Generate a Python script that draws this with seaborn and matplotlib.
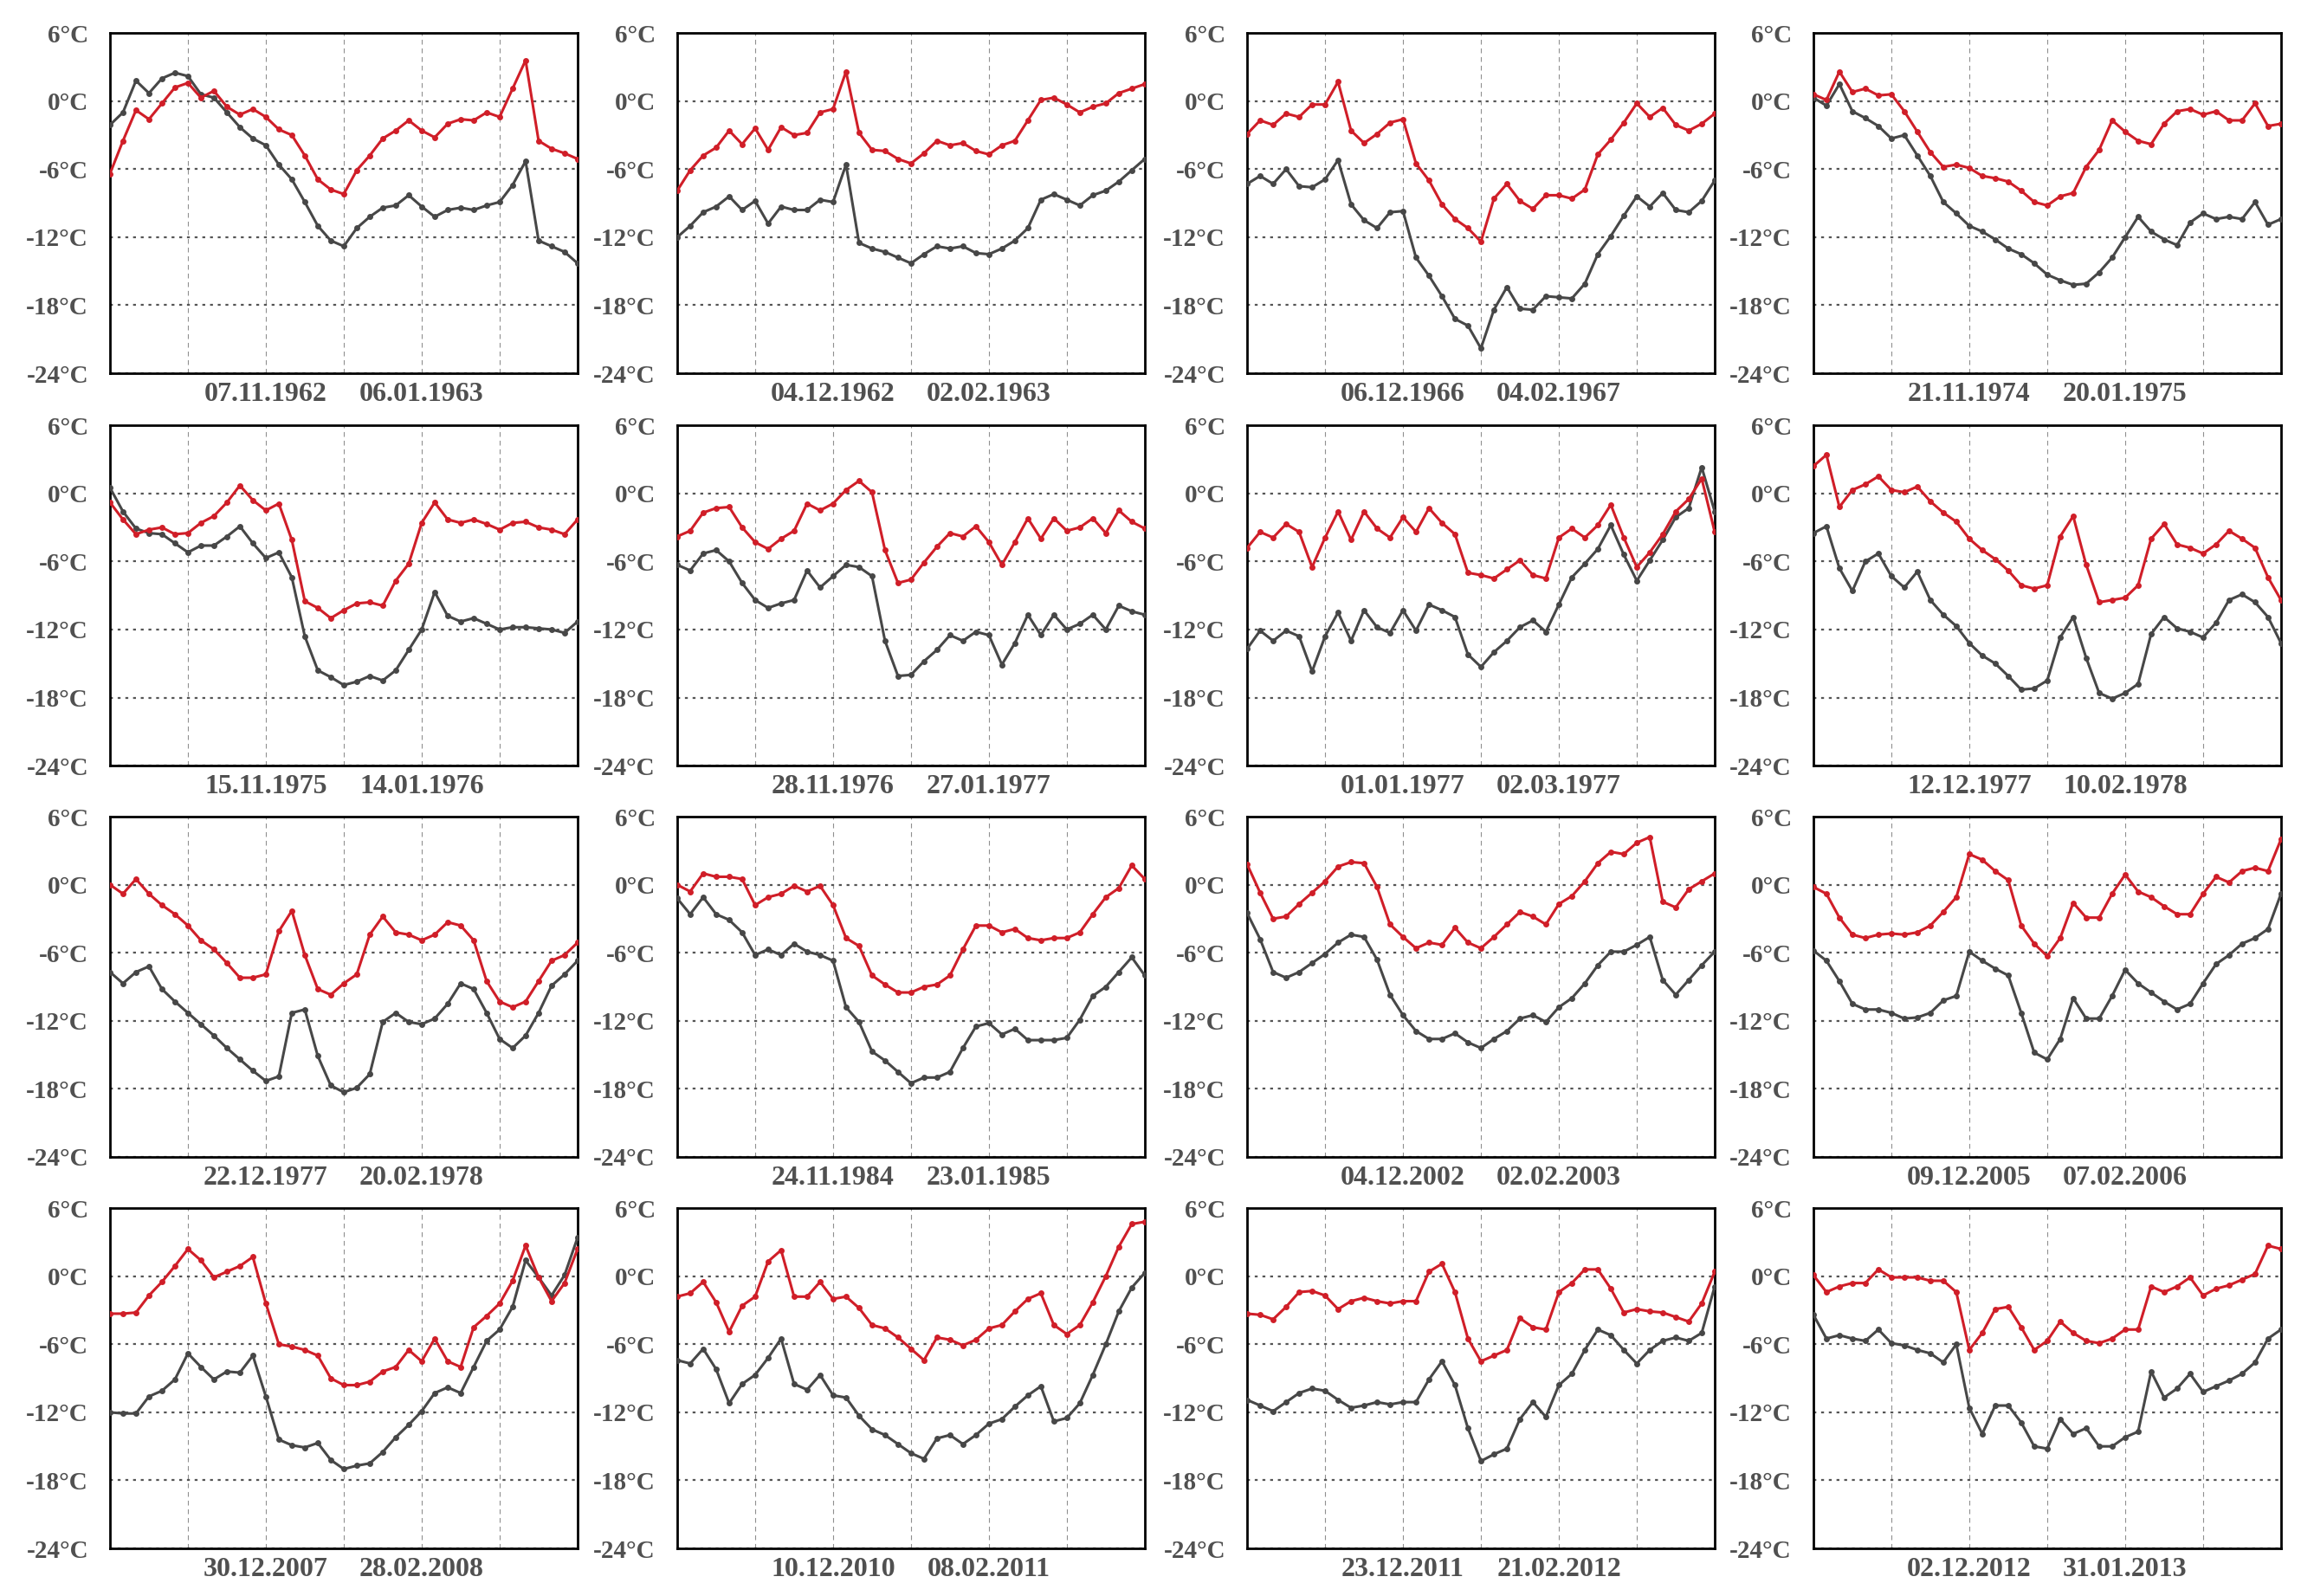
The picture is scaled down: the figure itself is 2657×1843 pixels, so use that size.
import numpy as np
import pandas as pd
import matplotlib
matplotlib.use('Agg')
import matplotlib.pyplot as plt
import seaborn as sns

# --- data: values read every 5 days over a 180-day window (day 0 = date_a - 60 days) ---
DAYS = np.arange(0, 181, 5)

DATE_A = ['07.11.1962', '04.12.1962', '06.12.1966', '21.11.1974',
          '15.11.1975', '28.11.1976', '01.01.1977', '12.12.1977',
          '22.12.1977', '24.11.1984', '04.12.2002', '09.12.2005',
          '30.12.2007', '10.12.2010', '23.12.2011', '02.12.2012']
DATE_B = ['06.01.1963', '02.02.1963', '04.02.1967', '20.01.1975',
          '14.01.1976', '27.01.1977', '02.03.1977', '10.02.1978',
          '20.02.1978', '23.01.1985', '02.02.2003', '07.02.2006',
          '28.02.2008', '08.02.2011', '21.02.2012', '31.01.2013']

p01_red = [-6.4, -3.5, -0.8, -1.6, -0.2, 1.2, 1.6, 0.3, 0.9, -0.5, -1.2, -0.7, -1.4, -2.5, -3.0, -4.8, -6.9, -7.8, -8.2,
           -6.1, -4.8, -3.3, -2.6, -1.7, -2.6, -3.2, -2.0, -1.6, -1.7, -1.0, -1.4, 1.1, 3.6, -3.5, -4.2, -4.6, -5.1]
p01_grey = [-2.1, -1.0, 1.8, 0.7, 2.0, 2.5, 2.2, 0.6, 0.3, -1.0, -2.3, -3.3, -3.9, -5.6, -6.9, -8.9, -11.0, -12.3, -12.8,
            -11.2, -10.2, -9.4, -9.2, -8.3, -9.3, -10.2, -9.6, -9.4, -9.6, -9.2, -8.9, -7.4, -5.3, -12.3, -12.8, -13.3, -14.3]

p02_red = [-7.9, -6.1, -4.8, -4.1, -2.6, -3.8, -2.4, -4.3, -2.3, -3.0, -2.8, -1.0, -0.7, 2.6, -2.8, -4.3, -4.4, -5.1, -5.5,
           -4.6, -3.5, -3.9, -3.7, -4.4, -4.7, -3.9, -3.5, -1.7, 0.1, 0.3, -0.3, -1.0, -0.5, -0.2, 0.7, 1.1, 1.5]
p02_grey = [-12.0, -11.0, -9.8, -9.3, -8.4, -9.6, -8.8, -10.8, -9.3, -9.6, -9.6, -8.7, -8.9, -5.6, -12.5, -13.0, -13.3, -13.8, -14.3,
            -13.5, -12.8, -13.0, -12.8, -13.4, -13.5, -13.0, -12.3, -11.2, -8.7, -8.2, -8.7, -9.2, -8.3, -7.9, -7.1, -6.1, -5.1]

p03_red = [-2.9, -1.7, -2.1, -1.1, -1.4, -0.3, -0.3, 1.7, -2.6, -3.7, -2.9, -1.9, -1.6, -5.5, -7.0, -9.1, -10.4, -11.2, -12.4,
           -8.6, -7.3, -8.8, -9.5, -8.3, -8.3, -8.6, -7.8, -4.7, -3.4, -1.9, -0.2, -1.4, -0.6, -2.1, -2.6, -2.0, -1.1]
p03_grey = [-7.3, -6.6, -7.3, -6.0, -7.5, -7.6, -6.9, -5.2, -9.1, -10.5, -11.2, -9.8, -9.7, -13.8, -15.4, -17.2, -19.2, -19.8, -21.8,
            -18.4, -16.4, -18.3, -18.4, -17.2, -17.3, -17.4, -16.1, -13.5, -11.9, -10.1, -8.4, -9.3, -8.1, -9.6, -9.8, -8.8, -7.0]

p04_red = [0.6, 0.1, 2.6, 0.8, 1.1, 0.5, 0.6, -0.9, -2.7, -4.5, -5.8, -5.6, -5.9, -6.6, -6.8, -7.1, -7.9, -8.9, -9.2,
           -8.4, -8.1, -5.8, -4.3, -1.7, -2.7, -3.5, -3.8, -2.0, -0.9, -0.7, -1.2, -0.9, -1.7, -1.7, -0.2, -2.2, -2.0]
p04_grey = [0.3, -0.4, 1.5, -0.9, -1.5, -2.2, -3.3, -3.0, -4.8, -6.6, -8.9, -9.9, -11.0, -11.5, -12.2, -13.0, -13.5, -14.3, -15.3,
            -15.8, -16.2, -16.1, -15.1, -13.8, -12.0, -10.2, -11.5, -12.2, -12.7, -10.7, -9.9, -10.4, -10.2, -10.4, -8.9, -10.9, -10.4]

p05_red = [-0.8, -2.3, -3.6, -3.2, -3.0, -3.6, -3.5, -2.6, -2.0, -0.8, 0.7, -0.6, -1.5, -0.9, -4.1, -9.5, -10.1, -11.0, -10.3,
           -9.7, -9.6, -9.9, -7.7, -6.2, -2.6, -0.8, -2.3, -2.6, -2.3, -2.7, -3.2, -2.6, -2.5, -3.0, -3.2, -3.6, -2.3]
p05_grey = [0.5, -1.6, -3.1, -3.5, -3.6, -4.4, -5.2, -4.6, -4.6, -3.8, -2.9, -4.4, -5.7, -5.2, -7.4, -12.6, -15.6, -16.2, -16.9,
            -16.6, -16.1, -16.5, -15.6, -13.8, -12.0, -8.7, -10.8, -11.3, -11.0, -11.5, -12.0, -11.8, -11.8, -11.9, -12.0, -12.3, -11.3]

p06_red = [-3.8, -3.3, -1.7, -1.3, -1.2, -3.0, -4.3, -4.9, -4.0, -3.3, -0.9, -1.5, -0.9, 0.3, 1.1, 0.1, -5.0, -7.9, -7.6,
           -6.1, -4.7, -3.5, -3.8, -2.9, -4.3, -6.3, -4.3, -2.2, -4.0, -2.2, -3.3, -3.0, -2.2, -3.5, -1.5, -2.5, -3.1]
p06_grey = [-6.3, -6.8, -5.3, -5.0, -6.0, -7.9, -9.4, -10.1, -9.7, -9.4, -6.8, -8.3, -7.3, -6.3, -6.5, -7.3, -13.0, -16.1, -16.0,
            -14.8, -13.8, -12.5, -13.0, -12.2, -12.5, -15.1, -13.2, -10.7, -12.5, -10.7, -12.0, -11.5, -10.7, -12.0, -9.9, -10.4, -10.7]

p07_red = [-4.8, -3.4, -3.9, -2.7, -3.4, -6.5, -3.9, -1.6, -4.1, -1.6, -3.1, -3.9, -2.1, -3.4, -1.3, -2.6, -3.6, -7.0, -7.2,
           -7.5, -6.7, -5.9, -7.2, -7.5, -3.9, -3.1, -3.9, -2.8, -1.0, -3.9, -6.5, -5.2, -3.6, -1.6, -0.5, 1.3, -3.4]
p07_grey = [-13.7, -12.1, -13.0, -12.1, -12.6, -15.7, -12.6, -10.5, -13.0, -10.3, -11.8, -12.3, -10.3, -12.1, -9.8, -10.3, -10.9, -14.2, -15.3,
            -14.0, -13.0, -11.8, -11.2, -12.2, -9.8, -7.4, -6.2, -4.9, -2.8, -5.4, -7.7, -5.9, -4.1, -2.1, -1.3, 2.3, -1.6]

p08_red = [2.4, 3.4, -1.2, 0.3, 0.8, 1.5, 0.3, 0.1, 0.6, -0.7, -1.7, -2.5, -4.0, -5.0, -5.8, -6.8, -8.1, -8.4, -8.1,
           -3.8, -2.0, -6.3, -9.6, -9.4, -9.2, -8.1, -4.0, -2.7, -4.5, -4.8, -5.3, -4.5, -3.3, -4.0, -4.8, -7.4, -9.4]
p08_grey = [-3.5, -2.9, -6.6, -8.6, -6.0, -5.3, -7.3, -8.3, -6.9, -9.4, -10.7, -11.7, -13.2, -14.3, -15.0, -16.1, -17.3, -17.2, -16.5,
            -12.7, -10.9, -14.5, -17.6, -18.1, -17.6, -16.8, -12.4, -10.9, -11.9, -12.2, -12.7, -11.4, -9.4, -8.9, -9.6, -10.9, -13.2]

p09_red = [0.0, -0.8, 0.5, -0.8, -1.8, -2.6, -3.6, -4.9, -5.7, -6.9, -8.2, -8.2, -7.9, -4.1, -2.3, -6.2, -9.2, -9.7, -8.7,
           -7.9, -4.4, -2.8, -4.2, -4.4, -4.9, -4.4, -3.3, -3.6, -4.9, -8.5, -10.3, -10.8, -10.3, -8.5, -6.7, -6.2, -5.1]
p09_grey = [-7.7, -8.7, -7.7, -7.2, -9.2, -10.3, -11.3, -12.3, -13.3, -14.4, -15.4, -16.4, -17.3, -16.9, -11.3, -11.0, -15.1, -17.7, -18.3,
            -17.9, -16.7, -12.1, -11.3, -12.1, -12.3, -11.8, -10.5, -8.7, -9.2, -11.3, -13.6, -14.4, -13.3, -11.3, -8.9, -7.9, -6.7]

p10_red = [0.0, -0.6, 1.0, 0.7, 0.7, 0.5, -1.8, -1.1, -0.8, -0.1, -0.6, -0.1, -1.8, -4.7, -5.4, -8.0, -8.8, -9.5, -9.5,
           -9.0, -8.8, -8.0, -5.7, -3.6, -3.6, -4.2, -3.9, -4.7, -4.9, -4.7, -4.7, -4.2, -2.6, -1.1, -0.3, 1.7, 0.5]
p10_grey = [-1.2, -2.6, -1.1, -2.6, -3.1, -4.2, -6.2, -5.7, -6.2, -5.2, -5.9, -6.2, -6.7, -10.8, -12.1, -14.7, -15.5, -16.5, -17.5,
            -17.0, -17.0, -16.5, -14.4, -12.5, -12.2, -13.2, -12.7, -13.7, -13.7, -13.7, -13.5, -11.9, -9.8, -9.0, -7.7, -6.4, -8.0]

p11_red = [1.8, -0.7, -3.0, -2.8, -1.7, -0.7, 0.3, 1.6, 2.0, 1.9, -0.2, -3.5, -4.6, -5.6, -5.1, -5.3, -3.8, -5.1, -5.6,
           -4.6, -3.5, -2.4, -2.8, -3.5, -1.7, -1.0, 0.3, 1.9, 2.9, 2.7, 3.7, 4.2, -1.5, -2.0, -0.4, 0.3, 1.0]
p11_grey = [-2.5, -4.8, -7.7, -8.2, -7.7, -6.9, -6.1, -5.1, -4.4, -4.6, -6.6, -9.7, -11.5, -12.9, -13.6, -13.6, -13.1, -13.9, -14.4,
            -13.6, -12.9, -11.8, -11.5, -12.1, -10.8, -10.0, -8.7, -7.1, -5.9, -5.9, -5.3, -4.6, -8.4, -9.7, -8.4, -7.1, -5.9]

p12_red = [-0.2, -0.8, -2.9, -4.4, -4.7, -4.4, -4.3, -4.4, -4.2, -3.6, -2.4, -1.1, 2.7, 2.2, 1.2, 0.4, -3.6, -5.2, -6.3,
           -4.7, -1.6, -2.9, -2.9, -0.8, 0.9, -0.6, -1.1, -1.9, -2.6, -2.6, -0.8, 0.7, 0.2, 1.2, 1.5, 1.2, 4.0]
p12_grey = [-5.8, -6.7, -8.5, -10.5, -11.0, -11.0, -11.3, -11.8, -11.7, -11.3, -10.2, -9.8, -5.9, -6.7, -7.4, -8.0, -11.3, -14.8, -15.4,
            -13.6, -10.0, -11.8, -11.8, -9.8, -7.5, -8.7, -9.5, -10.3, -11.0, -10.5, -8.7, -7.0, -6.2, -5.2, -4.7, -3.9, -0.8]

p13_red = [-3.3, -3.3, -3.2, -1.7, -0.5, 0.9, 2.4, 1.4, -0.1, 0.4, 0.9, 1.7, -2.4, -6.0, -6.2, -6.5, -7.0, -9.0, -9.6,
           -9.6, -9.3, -8.4, -8.0, -6.5, -7.5, -5.5, -7.5, -8.0, -4.5, -3.5, -2.4, -0.4, 2.7, -0.1, -2.2, -0.6, 2.4]
p13_grey = [-12.0, -12.1, -12.1, -10.6, -10.1, -9.1, -6.8, -8.0, -9.1, -8.4, -8.5, -7.0, -10.6, -14.4, -14.9, -15.1, -14.7, -16.2, -17.0,
            -16.7, -16.5, -15.5, -14.2, -13.1, -11.9, -10.3, -9.8, -10.3, -8.0, -5.7, -4.7, -2.7, 1.4, -0.1, -1.7, 0.1, 3.4]

p14_red = [-1.8, -1.5, -0.5, -2.3, -4.9, -2.6, -1.8, 1.3, 2.3, -1.8, -1.8, -0.5, -2.0, -1.8, -2.8, -4.3, -4.6, -5.4, -6.4,
           -7.4, -5.4, -5.6, -6.1, -5.6, -4.6, -4.3, -3.1, -2.0, -1.5, -4.3, -5.1, -4.3, -2.3, 0.0, 2.6, 4.6, 4.8]
p14_grey = [-7.4, -7.7, -6.4, -8.2, -11.2, -9.5, -8.7, -7.2, -5.5, -9.5, -10.0, -8.7, -10.5, -10.7, -12.3, -13.5, -14.0, -14.8, -15.6,
            -16.1, -14.3, -14.0, -14.8, -14.0, -13.0, -12.6, -11.5, -10.5, -9.7, -12.8, -12.5, -11.2, -8.7, -6.0, -3.1, -1.0, 0.3]

p15_red = [-3.3, -3.4, -3.8, -2.7, -1.4, -1.3, -1.7, -2.9, -2.2, -1.9, -2.2, -2.4, -2.2, -2.2, 0.4, 1.1, -1.4, -5.5, -7.5,
           -7.0, -6.5, -3.7, -4.5, -4.7, -1.4, -0.6, 0.6, 0.6, -1.1, -3.2, -2.9, -3.1, -3.2, -3.6, -4.0, -2.4, 0.4]
p15_grey = [-10.9, -11.4, -11.9, -11.1, -10.3, -9.9, -10.1, -10.9, -11.6, -11.4, -11.1, -11.3, -11.1, -11.1, -9.1, -7.5, -9.6, -13.4, -16.3,
            -15.7, -15.2, -12.6, -11.1, -12.4, -9.6, -8.6, -6.5, -4.7, -5.2, -6.5, -7.7, -6.5, -5.7, -5.4, -5.7, -5.0, -0.9]

p16_red = [0.1, -1.4, -0.9, -0.6, -0.6, 0.6, -0.1, -0.1, -0.1, -0.4, -0.4, -1.4, -6.5, -5.0, -2.9, -2.7, -4.5, -6.5, -5.7,
           -4.0, -5.0, -5.7, -5.9, -5.5, -4.7, -4.7, -0.9, -1.4, -0.9, -0.1, -1.7, -1.1, -0.8, -0.3, 0.2, 2.7, 2.4]
p16_grey = [-3.4, -5.5, -5.2, -5.5, -5.7, -4.7, -5.9, -6.1, -6.5, -6.8, -7.6, -6.0, -11.6, -13.9, -11.4, -11.4, -12.9, -15.0, -15.2,
            -12.6, -13.9, -13.4, -15.0, -15.0, -14.2, -13.7, -8.4, -10.7, -9.9, -8.6, -10.2, -9.7, -9.2, -8.6, -7.6, -5.5, -4.7]

PANELS = [(p01_red, p01_grey), (p02_red, p02_grey), (p03_red, p03_grey), (p04_red, p04_grey),
          (p05_red, p05_grey), (p06_red, p06_grey), (p07_red, p07_grey), (p08_red, p08_grey),
          (p09_red, p09_grey), (p10_red, p10_grey), (p11_red, p11_grey), (p12_red, p12_grey),
          (p13_red, p13_grey), (p14_red, p14_grey), (p15_red, p15_grey), (p16_red, p16_grey)]

Y_TICKS = [6, 0, -6, -12, -18, -24]

# --- style ---
sns.set_style('white')
plt.rcParams['font.family'] = ['Liberation Serif', 'DejaVu Serif']
plt.rcParams['font.weight'] = 'bold'

RED, GREY, TXT = '#d01e28', '#474747', '#505050'

fig = plt.figure(figsize=(26.57, 18.43), dpi=100)
LEFTS = [0.0478, 0.2943, 0.5420, 0.7881]
BOTTOMS = [0.7661, 0.5203, 0.2751, 0.0298]
W, H = 0.2032, 0.2132

for i, (red, grey) in enumerate(PANELS):
    r, c = divmod(i, 4)
    ax = fig.add_axes([LEFTS[c], BOTTOMS[r], W, H])
    df = pd.DataFrame({'day': np.concatenate([DAYS, DAYS]),
                       'temp': red + grey,
                       'serie': ['red'] * len(DAYS) + ['grey'] * len(DAYS)})
    sns.lineplot(data=df[df.serie == 'grey'], x='day', y='temp', ax=ax, color=GREY, lw=2.2,
                 marker='o', markersize=5, markeredgewidth=0, zorder=3)
    sns.lineplot(data=df[df.serie == 'red'], x='day', y='temp', ax=ax, color=RED, lw=2.2,
                 marker='o', markersize=5, markeredgewidth=0, zorder=4)

    ax.set_xlim(0, 180)
    ax.set_ylim(-24, 6)
    ax.set_yticks(Y_TICKS)
    ax.set_yticklabels([f'{v}°C' for v in Y_TICKS], fontsize=21, color=TXT, fontweight='bold')
    ax.set_xticks([60, 120])
    ax.set_xticks([30, 90, 150], minor=True)
    ax.set_xticklabels([DATE_A[i], DATE_B[i]], fontsize=23, color=TXT, fontweight='bold')
    ax.tick_params(axis='both', which='both', length=0)
    ax.tick_params(axis='y', pad=18)
    ax.tick_params(axis='x', pad=7)
    ax.grid(axis='y', which='major', color='#555555', ls=(0, (1.5, 2.5)), lw=1.6)
    ax.grid(axis='x', which='both', color='#909090', ls=(0, (5, 4)), lw=0.8)
    ax.set_xlabel('')
    ax.set_ylabel('')
    for s in ax.spines.values():
        s.set_color('black')
        s.set_linewidth(2.0)

fig.savefig('out.png', dpi=100, facecolor='white')
